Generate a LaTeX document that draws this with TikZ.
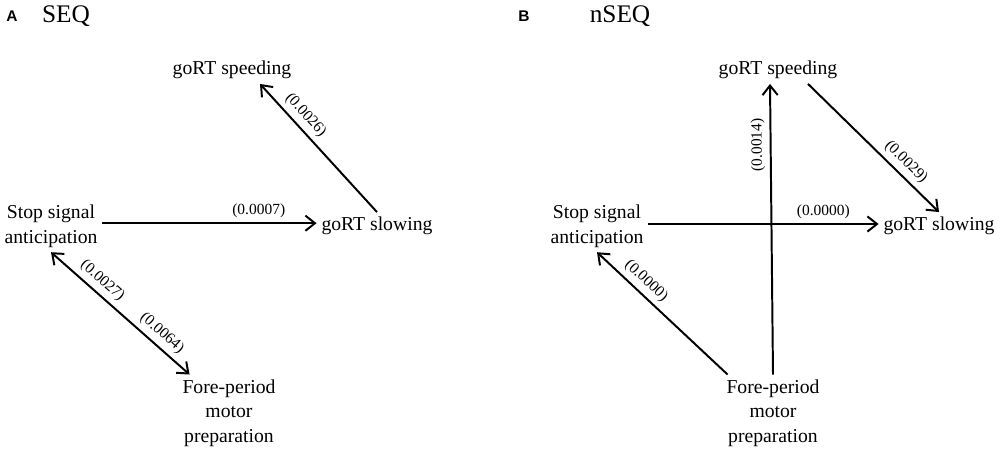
\documentclass[tikz,border=0pt]{standalone}
\usepackage{fontspec}
\setmainfont{Liberation Serif}
\newfontfamily\panelfont{Liberation Sans}
\usepackage{tikz}
\usetikzlibrary{arrows.meta, positioning}

\begin{document}
\begin{tikzpicture}[
		effect/.style={line width=1.4pt, -{Straight Barb[length=2.4mm,width=3.8mm]}},
		both/.style={line width=1.4pt, {Straight Barb[length=2.4mm,width=3.8mm]}-{Straight Barb[length=2.4mm,width=3.8mm]}},
		var/.style={align=center, font=\fontsize{14}{17.5}\selectfont},
		coef/.style={font=\fontsize{11}{13}\selectfont, sloped}]
		\useasboundingbox (0,0) rectangle (25,-11.275);
		
		% panel A
		\node(labA)  at (0.3,-0.4)  {\panelfont\bfseries\fontsize{11}{13}\selectfont A};
		\node(titleA)  at (1.65,-0.4)  {\fontsize{18}{21}\selectfont SEQ};
		\node(speedA)  [var] at (5.8,-1.75)  {goRT speeding};
		\node(stopA)  [var] at (1.275,-5.65)  {Stop signal\\anticipation};
		\node(slowA)  [var] at (9.425,-5.65)  {goRT slowing};
		\node(foreA)  [var] at (5.725,-10.325)  {Fore-period\\motor\\preparation};
		
		\draw[effect] ([yshift=0.07cm]stopA.east) -- ([yshift=0.07cm]slowA.west) node[coef, pos=0.73, above] {(0.0007)};
		\draw[effect] (slowA.north) -- ([xshift=0.7cm]speedA.south) node[coef, pos=0.69, above] {(0.0026)};
		\draw[both] (stopA.south) -- ([xshift=0.3cm]foreA.north west) node[coef, pos=0.31, above] {(0.0027)} node[coef, pos=0.74, above] {(0.0064)};
		
		% panel B
		\node(labB)  at (13.1,-0.4)  {\panelfont\bfseries\fontsize{11}{13}\selectfont B};
		\node(titleB)  at (15.5,-0.4)  {\fontsize{18}{21}\selectfont nSEQ};
		\node(speedB)  [var] at (19.45,-1.75)  {goRT speeding};
		\node(stopB)  [var] at (14.925,-5.65)  {Stop signal\\anticipation};
		\node(slowB)  [var] at (23.475,-5.65)  {goRT slowing};
		\node(foreB)  [var] at (19.325,-10.325)  {Fore-period\\motor\\preparation};
		
		\draw[effect] ([yshift=0.05cm]stopB.east) -- ([yshift=0.05cm]slowB.west) node[coef, pos=0.76, above] {(0.0000)};
		\draw[effect] (foreB.north) -- ([xshift=-0.2cm]speedB.south) node[coef, allow upside down, pos=0.79, above] {(0.0014)};
		\draw[effect] ([xshift=0.75cm]speedB.south) -- (slowB.north) node[coef, pos=0.68, above] {(0.0029)};
		\draw[effect] ([xshift=0.15cm]foreB.north west) -- (stopB.south) node[coef, pos=0.69, above] {(0.0000)};
		
		\end{tikzpicture}
\end{document}
